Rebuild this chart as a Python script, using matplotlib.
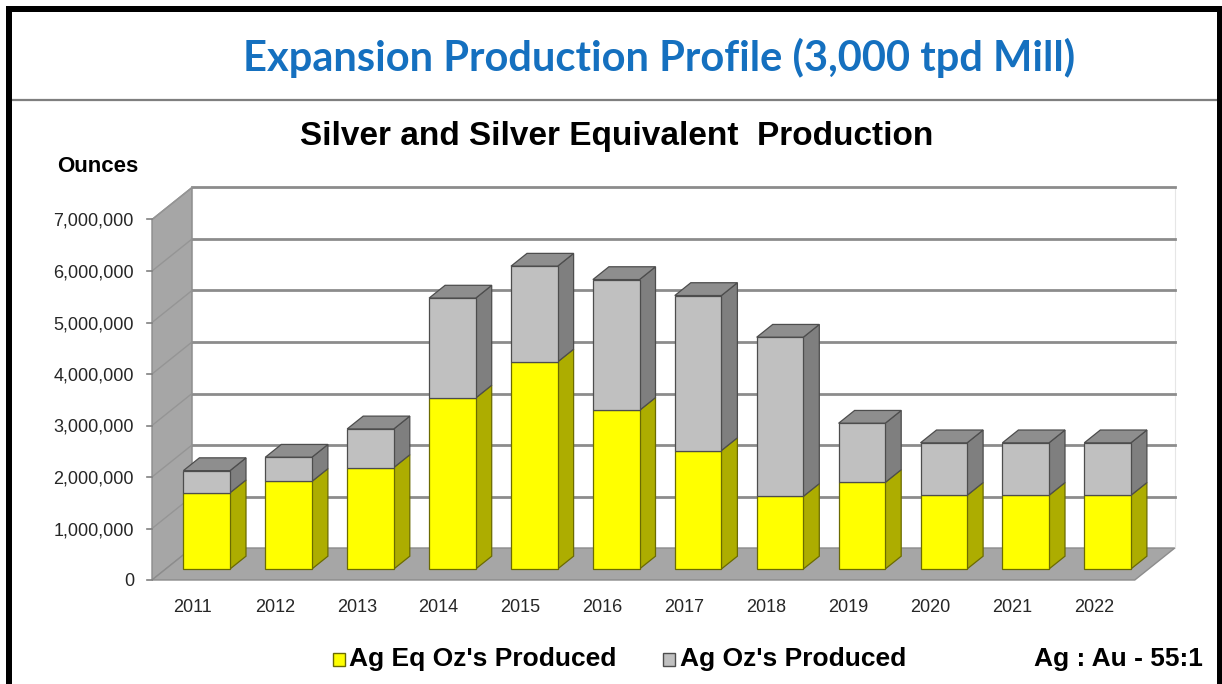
import matplotlib
matplotlib.use("Agg")
import matplotlib.pyplot as plt
from matplotlib.patches import Polygon, Rectangle
from matplotlib.lines import Line2D
from matplotlib.ticker import FuncFormatter

# ---------------- data ----------------
years = ["2011", "2012", "2013", "2014", "2015", "2016",
         "2017", "2018", "2019", "2020", "2021", "2022"]
# lower (yellow) segment
ag_eq_oz = [1480000, 1700000, 1970000, 3320000, 4020000, 3080000,
            2300000, 1410000, 1680000, 1430000, 1430000, 1430000]
# upper (grey) segment stacked on top
ag_oz = [430000, 470000, 750000, 1940000, 1860000, 2540000,
         3010000, 3090000, 1150000, 1020000, 1020000, 1020000]
y_ticks = [0, 1000000, 2000000, 3000000, 4000000, 5000000, 6000000, 7000000]
y_max = 7000000

series_labels = ["Ag Eq Oz's Produced", "Ag Oz's Produced"]
main_title = "Expansion Production Profile (3,000 tpd Mill)"
chart_title = "Silver and Silver Equivalent  Production"
y_label = "Ounces"
ratio_note = "Ag : Au - 55:1"

# ---------------- styling ----------------
W, H = 1222, 684
YEL_FRONT, YEL_SIDE, YEL_EDGE = "#FFFF00", "#ADAD00", "#6B6B00"
GRY_FRONT, GRY_SIDE, GRY_TOP, GRY_EDGE = "#C0C0C0", "#7F7F7F", "#8E8E8E", "#4D4D4D"
WALL = "#A6A6A6"
GRID = "#8C8C8C"
TXT = "#262626"
BLUE = "#1570BF"

plt.rcParams['font.family'] = ['Liberation Sans', 'DejaVu Sans']

fig = plt.figure(figsize=(W / 100, H / 100), dpi=100)
fig.patch.set_facecolor("white")


def fx(x):
    return x / W


def fy(y):
    return 1 - y / H


# plot area in pixels
ax_l, ax_r, ax_t, ax_b = 152, 1175, 186.7, 580
ax = fig.add_axes([fx(ax_l), fy(ax_b), (ax_r - ax_l) / W, (ax_b - ax_t) / H])
px_per_cat = 81.9
px_per_unit = 51.5 / 1e6
ax.set_xlim(-0.5, -0.5 + (ax_r - ax_l) / px_per_cat)
ax.set_ylim(0, (ax_b - ax_t) / px_per_unit)
ax.set_facecolor("none")
for s in ax.spines.values():
    s.set_visible(False)

n = len(years)
DX = 40 / px_per_cat          # depth offset in category units
DY = 32 / px_per_unit         # depth offset in value units
x_lo, x_hi = -0.5, n - 0.5

# back wall
ax.add_patch(Polygon([(x_lo + DX, DY), (x_hi + DX, DY), (x_hi + DX, y_max + DY),
                      (x_lo + DX, y_max + DY)], closed=True, facecolor="white",
                     edgecolor="#E6E6E6", lw=0.8, zorder=1, clip_on=False))
# left wall
ax.add_patch(Polygon([(x_lo, 0), (x_lo + DX, DY), (x_lo + DX, y_max + DY), (x_lo, y_max)],
                     closed=True, facecolor=WALL, edgecolor="#8C8C8C", lw=1.0,
                     zorder=2, clip_on=False))
# floor
ax.add_patch(Polygon([(x_lo, 0), (x_hi, 0), (x_hi + DX, DY), (x_lo + DX, DY)],
                     closed=True, facecolor=WALL, edgecolor="#8C8C8C", lw=1.0,
                     zorder=2, clip_on=False))
# gridlines
for v in y_ticks:
    if v > 0:
        ax.add_line(Line2D([x_lo + DX, x_hi + DX], [v + DY, v + DY], color=GRID,
                           lw=2.0, zorder=1.5, clip_on=False))
        ax.add_line(Line2D([x_lo, x_lo + DX], [v, v + DY], color="#959595",
                           lw=1.0, zorder=2.5, clip_on=False))
    ax.add_line(Line2D([x_lo - 5 / px_per_cat, x_lo], [v, v], color="#808080",
                       lw=1.2, zorder=2.5, clip_on=False))

# bars
d0 = 11 / 32      # front-face depth fraction
dd = 0.40         # bar depth fraction
bw = 46.6 / px_per_cat


def draw_segment(i, base, height, front, side, top, edge, draw_top):
    x0 = i + d0 * DX - bw / 2
    x1 = x0 + bw
    yb = base + d0 * DY
    yt = yb + height
    ddx, ddy = dd * DX, dd * DY
    ax.add_patch(Polygon([(x1, yb), (x1 + ddx, yb + ddy), (x1 + ddx, yt + ddy), (x1, yt)],
                         closed=True, facecolor=side, edgecolor=edge, lw=0.9,
                         zorder=5, clip_on=False))
    if draw_top:
        ax.add_patch(Polygon([(x0, yt), (x1, yt), (x1 + ddx, yt + ddy), (x0 + ddx, yt + ddy)],
                             closed=True, facecolor=top, edgecolor=edge, lw=0.9,
                             zorder=5, clip_on=False))
    ax.add_patch(Rectangle((x0, yb), bw, height, facecolor=front, edgecolor=edge,
                           lw=0.9, zorder=6, clip_on=False))


for i in range(n):
    draw_segment(i, 0, ag_eq_oz[i], YEL_FRONT, YEL_SIDE, YEL_SIDE, YEL_EDGE, False)
    draw_segment(i, ag_eq_oz[i], ag_oz[i], GRY_FRONT, GRY_SIDE, GRY_TOP, GRY_EDGE, True)

# ticks
ax.set_yticks(y_ticks)
ax.yaxis.set_major_formatter(FuncFormatter(lambda v, p: f"{int(v):,}"))
ax.tick_params(axis="y", length=0, pad=18 * 0.72, labelsize=13, labelcolor=TXT)
ax.set_xticks(range(n))
ax.set_xticklabels(years)
ax.tick_params(axis="x", length=0, pad=19 * 0.72, labelsize=13, labelcolor=TXT)

# texts
fig.text(fx(659), fy(58), main_title, ha="center", va="center", color=BLUE,
         fontsize=30, fontweight="bold", family=["Lato", "DejaVu Sans"])
fig.text(fx(617), fy(136), chart_title, ha="center", va="center", color="black",
         fontsize=24, fontweight="bold")
fig.text(fx(57), fy(166), y_label, ha="left", va="center", color="black",
         fontsize=16, fontweight="bold")

# legend
for sx, col, ec, lab, tx in [(333, YEL_FRONT, YEL_EDGE, series_labels[0], 349),
                             (663, GRY_FRONT, GRY_EDGE, series_labels[1], 680)]:
    fig.add_artist(Rectangle((fx(sx), fy(666)), 12 / W, 13 / H, transform=fig.transFigure,
                             facecolor=col, edgecolor=ec, lw=1.0))
    fig.text(fx(tx), fy(659), lab, ha="left", va="center", color="black",
             fontsize=19, fontweight="bold")
fig.text(fx(1203), fy(659), ratio_note, ha="right", va="center", color="black",
         fontsize=19, fontweight="bold")

# separator and frame
fig.add_artist(Line2D([fx(11), fx(1218)], [fy(100), fy(100)], transform=fig.transFigure,
                      color="#7F7F7F", lw=1.6))
fig.add_artist(Line2D([fx(8.5), fx(8.5), fx(1220), fx(1220)],
                      [fy(700), fy(9), fy(9), fy(700)], transform=fig.transFigure,
                      color="black", lw=6 * 0.72, solid_joinstyle="miter"))

fig.savefig("out.png", dpi=100)
